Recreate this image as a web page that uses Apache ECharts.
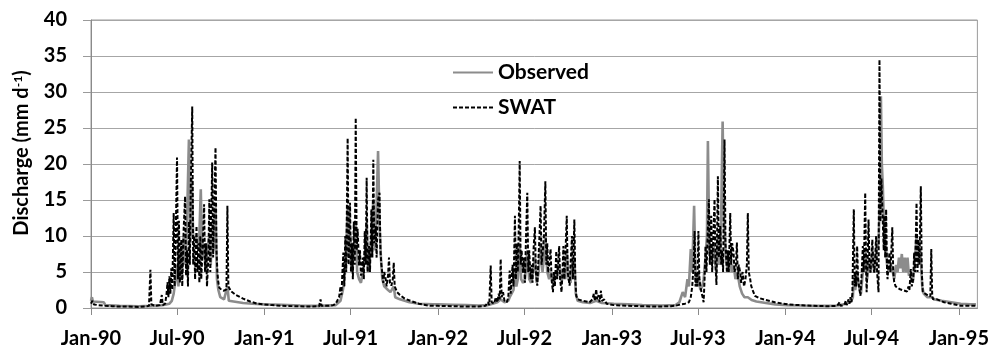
<!DOCTYPE html>
<html><head><meta charset="utf-8">
<script src="https://cdn.jsdelivr.net/npm/echarts@6/dist/echarts.min.js"></script>
<style>html,body{margin:0;padding:0;background:#fff}#c{width:992px;height:359px}</style>
</head><body><div id="c"></div>
<script>
// x values = days since 1 Jan 1990
const tickDays = [0, 181, 365, 546, 730, 912, 1096, 1277, 1461, 1642, 1826];
const tickLabels = ['Jan-90','Jul-90','Jan-91','Jul-91','Jan-92','Jul-92','Jan-93','Jul-93','Jan-94','Jul-94','Jan-95'];
const yTicks = [0,5,10,15,20,25,30,35,40];

const observed = [
[0,1.0],[2,1.5],[4,0.9],[27,0.8],[30,0.4],[60,0.3],[100,0.25],[125,0.3],[150,0.4],[165,0.6],[170,1.0],[174,2.0],[178,4.0],[181,6.0],[184,3.0],[188,8.0],[191,4.0],[195,10.0],[198,6.0],[202,12.0],[206,23.4],[209,9.0],[212,18.0],[215,10.0],[218,9.5],[221,10.0],[224,9.0],[227,8.0],[231,16.5],[234,7.0],[238,9.0],[241,5.0],[245,8.0],[249,10.0],[252,6.0],[255,12.0],[258,8.0],[262,14.0],[265,4.0],[268,2.5],[272,1.5],[280,1.2],[287,3.0],[290,1.0],[300,0.9],[320,0.7],[340,0.6],
[365,0.5],[400,0.45],[440,0.35],[480,0.3],[515,0.4],
[519,0.5],[525,1.0],[530,2.5],[533,4.0],[536,6.0],[540,14.0],[543,7.0],[546,10.0],[549,5.0],[553,8.0],[557,12.0],[560,5.0],[564,4.0],[568,3.5],[572,5.0],[576,7.0],[580,12.0],[583,5.0],[587,7.0],[590,10.0],[594,15.0],[597,8.0],[600,12.0],[604,21.8],[607,12.0],[610,7.0],[613,4.0],[617,3.0],[620,3.0],[625,2.5],[630,2.2],[637,3.0],[640,1.5],[650,1.2],[670,0.8],[690,0.6],[720,0.5],
[730,0.5],[760,0.45],[790,0.4],[815,0.35],[835,0.4],[845,0.6],[855,0.8],[862,1.2],[870,0.8],[878,1.0],
[881,1.5],[885,2.0],[889,2.5],[892,5.0],[895,3.0],[898,4.0],[902,9.0],[905,4.0],[909,3.5],[913,4.0],[918,8.0],[922,4.0],[926,3.5],[930,5.0],[934,7.0],[938,3.5],[942,5.0],[946,9.0],[950,5.0],[953,7.0],[956,10.0],[960,5.0],[964,4.0],[968,5.0],[972,3.5],[976,4.0],[980,5.0],[985,6.0],[990,3.5],[994,5.0],[998,4.0],[1001,8.0],[1005,4.0],[1009,3.5],[1012,6.0],[1017,7.0],[1020,2.0],[1024,1.0],[1035,0.8],[1050,0.7],[1063,1.0],[1075,0.7],
[1100,0.6],[1130,0.5],[1160,0.4],[1200,0.35],[1230,0.4],[1238,0.8],
[1241,1.0],[1245,2.2],[1250,1.5],[1255,4.0],[1258,3.0],[1262,8.2],[1265,5.0],[1269,14.2],[1272,4.0],[1275,3.0],[1278,5.0],[1282,2.5],[1286,3.0],[1289,4.0],[1293,7.0],[1296,10.0],[1298,23.2],[1301,8.0],[1305,6.0],[1309,9.0],[1312,7.0],[1316,5.0],[1319,10.0],[1322,6.0],[1325,9.0],[1329,25.9],[1332,12.0],[1336,7.0],[1340,5.0],[1344,8.0],[1348,5.0],[1352,6.0],[1356,4.0],[1360,5.0],[1365,3.0],[1370,2.0],[1375,1.5],[1382,1.5],[1390,1.1],[1400,0.9],[1420,0.7],[1440,0.5],
[1466,0.4],[1500,0.35],[1540,0.3],[1570,0.35],[1590,0.6],[1600,1.0],
[1603,1.5],[1605,4.0],[1608,2.5],[1612,5.0],[1616,3.0],[1620,2.0],[1624,5.0],[1629,8.0],[1633,4.0],[1637,7.0],[1641,5.0],[1645,8.0],[1649,5.0],[1653,8.0],[1657,9.0],[1660,15.0],[1662,29.4],[1664,20.0],[1666,17.0],[1669,10.0],[1672,9.0],[1675,6.0],[1679,5.0],[1683,6.0],[1687,5.0],[1690,4.0],[1694,6.0],[1697,5.0],[1700,7.0],[1703,5.5],[1706,7.5],[1709,5.0],[1712,7.0],[1715,5.0],[1718,7.0],[1721,4.5],[1725,5.0],[1729,3.5],[1733,6.0],[1737,10.0],[1741,6.0],[1745,8.0],[1749,3.0],[1752,2.0],[1760,1.5],[1768,1.5],[1775,1.2],[1790,1.0],[1810,0.8],[1830,0.6],[1850,0.5],[1862,0.5]
];

const swat = [
[0,0.6],[3,1.0],[6,0.5],[15,0.4],[30,0.3],[45,0.25],[60,0.2],[80,0.2],[100,0.15],[115,0.2],[122,0.3],[125,5.3],[127,0.5],[135,0.3],[145,0.4],[149,1.8],[151,0.4],[156,0.6],[159,2.0],[161,3.6],[163,1.5],[165,4.4],[167,2.0],
[169,5.5],[171,2.5],[174,13.2],[176,3.0],[178,9.0],[181,20.9],[183,4.0],[185,12.1],[187,3.5],[190,9.5],[192,3.0],[195,11.0],[198,15.5],[200,4.5],[202,8.0],[204,3.0],[206,12.0],[208,6.0],[210,17.0],[213,28.0],[215,6.0],[217,10.0],[219,4.0],[222,11.4],[224,5.0],[226,9.0],[228,3.5],[230,10.0],[232,4.0],[235,8.5],[238,14.4],[240,5.0],[242,9.0],[244,3.0],[247,7.0],[249,15.1],[251,5.0],[253,12.0],[255,20.2],[257,7.0],[259,13.0],[262,22.3],[264,8.0],[266,4.9],[268,3.5],[270,2.8],[275,2.5],[280,2.4],[285,2.6],[287,14.2],[289,3.0],[295,2.3],[305,1.8],[320,1.3],[335,0.9],[350,0.6],
[365,0.5],[380,0.4],[400,0.3],[430,0.25],[460,0.2],[480,0.25],[483,1.2],[485,0.3],[500,0.3],[510,0.4],[515,0.6],
[519,0.8],[522,1.5],[525,3.0],[527,1.8],[529,5.0],[531,7.7],[533,3.0],[535,10.0],[537,5.0],[540,23.6],[542,6.0],[545,14.6],[547,5.0],[549,9.0],[551,4.0],[553,12.0],[555,6.0],[557,26.4],[559,8.0],[561,11.0],[564,5.9],[566,8.0],[568,4.5],[570,5.0],[572,7.0],[574,4.0],[576,10.7],[578,6.0],[580,18.1],[582,5.0],[585,8.6],[587,5.0],[590,13.7],[592,7.0],[594,20.6],[596,9.0],[599,11.4],[601,7.0],[604,15.0],[607,16.0],[609,8.0],[611,6.0],[613,5.9],[615,3.5],[617,5.0],[620,4.0],[622,3.0],[625,4.5],[627,7.0],[629,3.5],[632,3.1],[635,4.0],[637,6.3],[639,3.0],[644,2.2],[650,1.8],[660,1.3],[672,1.0],[690,0.6],[713,0.3],
[730,0.3],[760,0.25],[790,0.2],[815,0.2],[830,0.3],[835,0.8],[838,0.4],[841,5.9],[843,0.8],[848,0.6],[852,1.5],[855,0.8],[858,2.0],[860,1.2],[862,6.8],[864,1.5],[867,2.2],[870,1.0],[875,0.8],[878,1.5],
[881,5.2],[883,2.0],[885,4.0],[887,6.0],[889,3.0],[892,12.8],[894,4.0],[896,9.0],[898,5.0],[900,11.0],[902,20.4],[904,6.0],[906,8.0],[909,4.9],[911,7.0],[913,3.5],[915,9.0],[918,16.0],[920,5.0],[922,8.0],[925,4.0],[927,6.0],[929,3.5],[931,8.0],[934,11.2],[936,5.0],[939,3.1],[941,6.0],[943,9.0],[946,14.2],[948,6.0],[951,8.2],[953,10.0],[956,17.6],[958,6.0],[960,9.0],[962,4.9],[964,6.0],[967,8.2],[969,4.0],[972,2.2],[974,5.0],[976,3.0],[979,7.9],[981,4.0],[983,6.0],[985,8.6],[987,4.0],[990,2.2],[992,5.0],[994,8.6],[996,4.0],[998,7.0],[1001,12.8],[1003,5.0],[1005,4.0],[1007,3.1],[1009,6.0],[1012,10.0],[1014,4.0],[1017,12.3],[1019,4.0],[1021,1.7],[1024,1.2],[1035,1.0],[1049,0.8],[1055,1.2],[1058,2.0],[1060,1.0],[1063,2.6],[1065,1.2],[1068,1.8],[1070,0.8],[1073,2.4],[1075,1.0],[1080,1.2],[1085,0.6],
[1100,0.4],[1130,0.3],[1160,0.25],[1190,0.2],[1220,0.25],[1235,0.4],
[1241,0.5],[1250,0.6],[1258,0.8],[1262,1.5],[1265,3.0],[1268,6.0],[1270,10.7],[1272,3.0],[1274,5.0],[1276,3.0],[1278,10.7],[1280,4.0],[1282,3.1],[1285,2.0],[1287,1.5],[1289,0.8],[1291,4.0],[1293,8.6],[1295,5.0],[1297,9.0],[1300,15.1],[1302,6.0],[1305,12.8],[1307,5.0],[1309,9.0],[1312,15.1],[1314,6.0],[1316,3.2],[1319,18.3],[1321,7.0],[1324,11.4],[1326,6.0],[1328,8.0],[1330,5.0],[1333,23.4],[1335,9.0],[1338,4.9],[1340,8.0],[1342,5.0],[1345,13.2],[1347,6.0],[1349,9.0],[1352,7.7],[1354,5.0],[1357,6.0],[1359,9.1],[1361,4.0],[1363,6.0],[1366,4.9],[1368,3.5],[1371,5.0],[1374,3.0],[1377,4.0],[1380,6.0],[1382,13.2],[1384,5.0],[1387,4.0],[1389,3.1],[1392,2.5],[1397,1.7],[1405,1.4],[1420,1.1],[1439,0.8],
[1466,0.5],[1490,0.4],[1520,0.3],[1550,0.25],[1570,0.3],[1575,0.8],[1577,0.3],[1585,0.4],[1588,1.0],[1590,0.4],[1594,1.2],[1596,0.6],[1598,1.5],[1600,0.8],[1602,2.0],
[1605,13.7],[1607,3.0],[1608,4.9],[1610,3.0],[1612,8.6],[1614,4.0],[1617,2.5],[1619,1.7],[1621,4.0],[1624,8.6],[1626,5.0],[1629,16.0],[1631,5.0],[1632,2.2],[1634,6.0],[1636,12.3],[1638,6.0],[1640,4.9],[1642,7.0],[1644,9.5],[1646,6.0],[1648,4.9],[1650,7.0],[1652,10.0],[1654,5.0],[1657,2.2],[1659,34.5],[1661,12.0],[1663,18.0],[1666,17.9],[1668,8.0],[1669,12.8],[1671,7.0],[1673,13.7],[1675,5.0],[1676,4.0],[1678,6.0],[1680,7.7],[1682,5.0],[1684,8.0],[1686,11.2],[1688,5.0],[1690,3.6],[1693,3.0],[1697,2.8],[1702,2.6],[1707,2.5],[1712,2.4],[1717,2.3],[1720,3.0],[1722,2.5],[1725,5.4],[1727,3.0],[1730,4.0],[1732,7.7],[1734,5.0],[1737,14.6],[1739,5.0],[1741,9.5],[1743,6.0],[1746,16.9],[1748,5.0],[1750,2.2],[1755,2.0],[1760,1.8],[1766,1.6],[1768,8.2],[1770,1.6],[1772,1.2],[1780,1.2],[1795,0.8],[1810,0.6],[1830,0.3],[1850,0.3],[1862,0.3]
];

const FONT = 'Lato';
const chart = echarts.init(document.getElementById('c'), null, {renderer:'canvas'});
chart.setOption({
  animation: false,
  backgroundColor: '#fff',
  grid: {left: 91, right: 10, top: 20, bottom: 51, show: true, borderColor: '#9a9a9a', borderWidth: 1},
  legend: {
    orient: 'vertical', left: 447, top: 57, itemWidth: 40, itemHeight: 14, itemGap: 14,
    itemStyle: {opacity: 0},
    textStyle: {fontFamily: FONT, fontWeight: 'bold', fontSize: 21, color: '#000', lineHeight: 21},
    data: ['Observed', 'SWAT']
  },
  xAxis: {
    type: 'value', min: 0, max: 1865,
    axisLine: {show: true, lineStyle: {color: '#8a8a8a'}},
    axisTick: {show: true, customValues: tickDays, length: 7, lineStyle: {color: '#8a8a8a'}},
    axisLabel: {customValues: tickDays, margin: 21, fontFamily: FONT, fontWeight: 'bold', fontSize: 20, color: '#000',
      formatter: v => tickLabels[tickDays.indexOf(v)] || ''},
    splitLine: {show: false}
  },
  yAxis: {
    type: 'value', min: 0, max: 40, interval: 5,
    axisLine: {show: true, lineStyle: {color: '#8a8a8a'}},
    axisTick: {show: true, length: 8, lineStyle: {color: '#9a9a9a'}},
    axisLabel: {margin: 24, fontFamily: FONT, fontWeight: 'bold', fontSize: 20, color: '#000',
      formatter: v => yTicks.indexOf(v) >= 0 ? String(v) : ''},
    splitLine: {show: true, lineStyle: {color: '#a6a6a6', width: 1}}
  },
  graphic: [{
    type: 'text', x: 22, y: 153, rotation: Math.PI / 2,
    style: {
      text: '{a|Discharge (mm d}{s|-1}{a|)}',
      align: 'center', verticalAlign: 'middle',
      rich: {
        a: {fontFamily: FONT, fontWeight: 'bold', fontSize: 20, fill: '#000'},
        s: {fontFamily: FONT, fontWeight: 'bold', fontSize: 12, fill: '#000', verticalAlign: 'top', padding: [0,0,8,0]}
      }
    }
  }],
  series: [
    {name: 'Observed', type: 'line', data: observed, symbol: 'none', showSymbol: false, symbolSize: 0,
      lineStyle: {color: '#8c8c8c', width: 2.6}, itemStyle: {color: '#8c8c8c'}, z: 2},
    {name: 'SWAT', type: 'line', data: swat, symbol: 'none', showSymbol: false, symbolSize: 0,
      lineStyle: {color: '#000', width: 2.0, type: [4, 2]}, itemStyle: {color: '#000'}, z: 3}
  ]
});
</script></body></html>
